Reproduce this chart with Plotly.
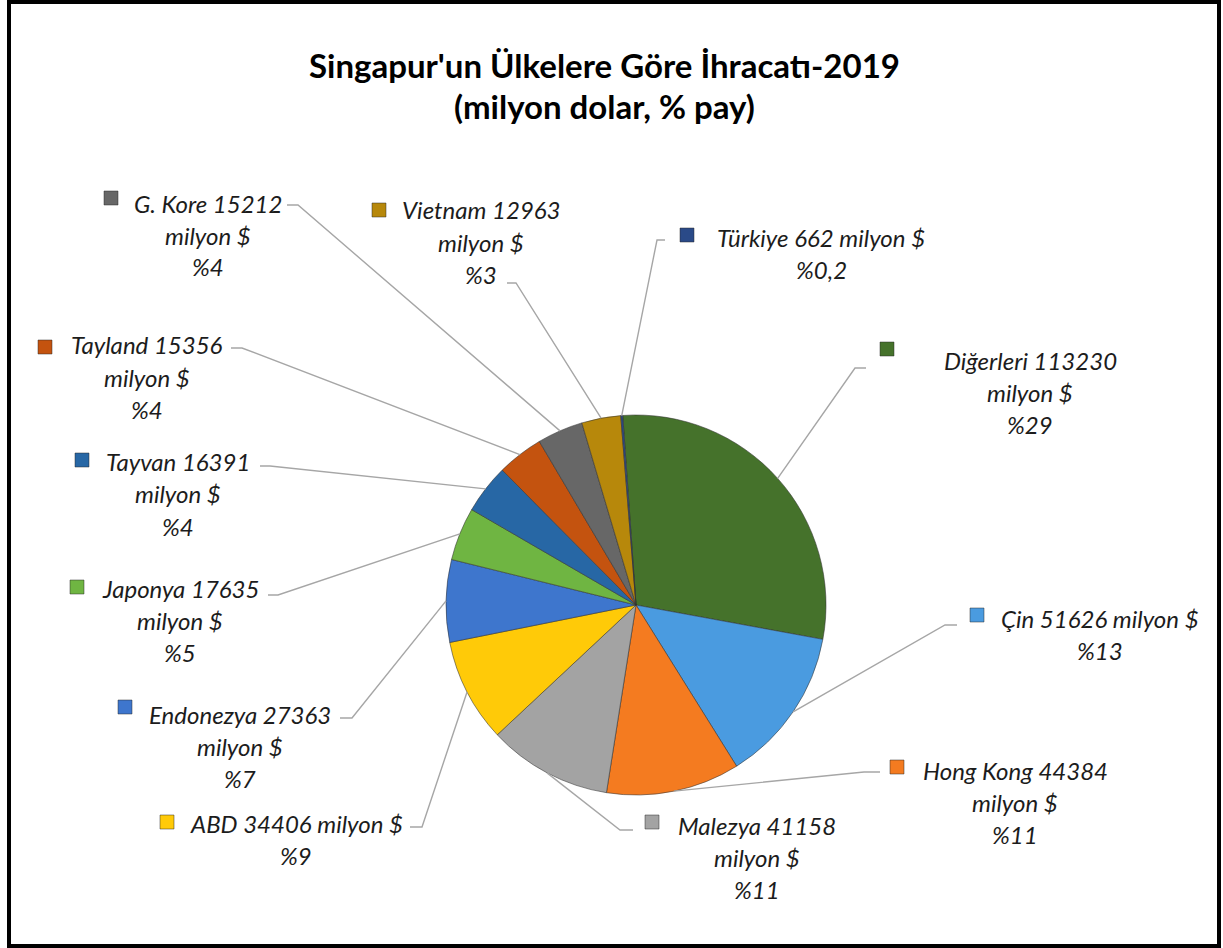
import math
import plotly.graph_objects as go

W, H = 1223, 948

# ---- data ----
countries = ["Diğerleri", "Çin", "Hong Kong", "Malezya", "ABD", "Endonezya",
             "Japonya", "Tayvan", "Tayland", "G. Kore", "Vietnam", "Türkiye"]
values = [113230, 51626, 44384, 41158, 34406, 27363,
          17635, 16391, 15356, 15212, 12963, 662]
pct_labels = ["%29", "%13", "%11", "%11", "%9", "%7",
              "%5", "%4", "%4", "%4", "%3", "%0,2"]
colors = ["#45722B", "#4A9BE0", "#F47B20", "#A3A3A3", "#FFCA08", "#3E76CD",
          "#6FB542", "#2767A5", "#C4530F", "#676767", "#B7880B", "#2A4A88"]
one_line = [False, True, False, False, True, False,
            False, False, False, False, False, True]

# ---- layout (pixels) ----
PIE_CX, PIE_CY, PIE_R = 636, 605, 190
ROTATION = -4
# label text centre x, first line y
label_pos = [(1030, 360), (1100, 618), (1015, 770), (757, 825), (296, 823), (240, 714),
             (180, 588), (178, 462), (147, 345), (208, 203), (481, 210), (821, 238)]
marker_pos = [(880, 349), (970, 615), (890, 767), (645, 822), (160, 822), (118, 707),
              (70, 587), (75, 460), (38, 347), (104, 198), (372, 210), (680, 235)]
leader_start = [(866, 368), (957, 625), (880, 772), (633, 830), (410, 827), (340, 718),
                (268, 595), (260, 466), (231, 348), (287, 205), (507, 283), (665, 240)]
knee_dx = [-11, -12, -16, -13, 12, 12, 10, 10, 11, 11, 9, -8]
LINE_STEP = 32


def px(x):
    return x / W


def py(y):
    return 1 - y / H


fig = go.Figure()
fig.add_trace(go.Pie(
    labels=countries, values=values, sort=False, direction="clockwise",
    rotation=ROTATION, textinfo="none", hoverinfo="label+value+percent",
    marker=dict(colors=colors, line=dict(color="rgba(50,50,50,0.55)", width=1)),
    domain=dict(x=[px(PIE_CX - PIE_R), px(PIE_CX + PIE_R)],
                y=[py(PIE_CY + PIE_R), py(PIE_CY - PIE_R)]),
    showlegend=False,
))

annotations = []
shapes = []

# title
for ty, tt in [(65, "Singapur'un Ülkelere Göre İhracatı-2019"), (106, "(milyon dolar, % pay)")]:
    annotations.append(dict(x=px(604), y=py(ty), xref="paper", yref="paper",
                            text=f"<b>{tt}</b>", showarrow=False,
                            xanchor="center", yanchor="middle",
                            font=dict(family="Lato", size=33, color="#000000")))

total = sum(values)
cum = 0
for i, name in enumerate(countries):
    v = values[i]
    if one_line[i]:
        lines = [f"{name} {v} milyon $", pct_labels[i]]
    else:
        lines = [f"{name} {v}", "milyon $", pct_labels[i]]
    cx, y1 = label_pos[i]
    for k, t in enumerate(lines):
        annotations.append(dict(x=px(cx), y=py(y1 + k * LINE_STEP), xref="paper", yref="paper",
                                text=f"<i>{t}</i>", showarrow=False,
                                xanchor="center", yanchor="middle",
                                font=dict(family="Lato", size=24, color="#1c1c1c")))
    # legend key marker
    mx, my = marker_pos[i]
    shapes.append(dict(type="rect", xref="paper", yref="paper",
                       x0=px(mx), x1=px(mx + 14), y0=py(my + 7), y1=py(my - 7),
                       fillcolor=colors[i], line=dict(color="rgba(40,40,40,0.6)", width=0.8)))
    # leader line to slice mid-angle on the pie edge
    mid = math.radians(ROTATION + 360 * (cum + v / 2) / total)
    ex = PIE_CX + PIE_R * math.sin(mid)
    ey = PIE_CY - PIE_R * math.cos(mid)
    sx, sy = leader_start[i]
    kx = sx + knee_dx[i]
    path = f"M {px(sx)} {py(sy)} L {px(kx)} {py(sy)} L {px(ex)} {py(ey)}"
    shapes.append(dict(type="path", xref="paper", yref="paper", path=path,
                       line=dict(color="#A6A6A6", width=1.4)))
    cum += v

# outer border
shapes.append(dict(type="rect", xref="paper", yref="paper",
                   x0=px(9), x1=px(1219), y0=py(946), y1=py(2),
                   line=dict(color="#000000", width=4), fillcolor="rgba(0,0,0,0)"))

fig.update_layout(width=W, height=H, margin=dict(l=0, r=0, t=0, b=0),
                  paper_bgcolor="white", plot_bgcolor="white",
                  annotations=annotations, shapes=shapes)

fig.write_html("out.html", config={"displayModeBar": False},
               post_script="document.body.style.margin='0px';document.body.style.overflow='hidden';")
